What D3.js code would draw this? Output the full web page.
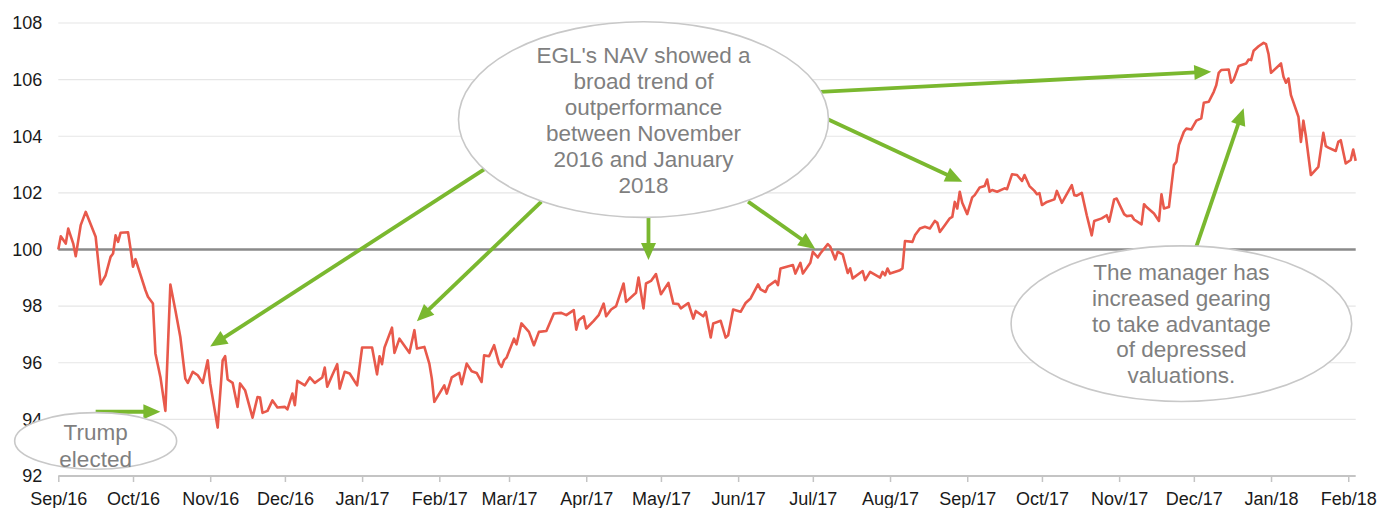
<!DOCTYPE html>
<html>
<head>
<meta charset="utf-8">
<script src="https://cdn.jsdelivr.net/npm/d3@7"></script>
<style>
  body { margin: 0; background: #fff; }
  svg { display: block; font-family: "Liberation Sans", Arial, sans-serif; }
</style>
</head>
<body>
<div id="chart"></div>
<script>
// chart size
const width = 1381, height = 508;
const margin = {top: 23, right: 25.3, bottom: 32, left: 58.3};

// NAV relative to index
const navDates = [
  "2016-09-01","2016-09-02","2016-09-04","2016-09-05","2016-09-07","2016-09-08","2016-09-10","2016-09-12",
  "2016-09-16","2016-09-18","2016-09-20","2016-09-22","2016-09-23","2016-09-24","2016-09-25","2016-09-26",
  "2016-09-29","2016-09-30","2016-10-01","2016-10-02","2016-10-06","2016-10-07","2016-10-09","2016-10-10",
  "2016-10-12","2016-10-14","2016-10-16","2016-10-18","2016-10-20","2016-10-22","2016-10-23","2016-10-25",
  "2016-10-27","2016-10-29","2016-10-31","2016-11-01","2016-11-04","2016-11-06","2016-11-07","2016-11-08",
  "2016-11-10","2016-11-12","2016-11-13","2016-11-15","2016-11-18","2016-11-20","2016-11-21","2016-11-22",
  "2016-11-24","2016-11-26","2016-11-28","2016-12-01","2016-12-02","2016-12-04","2016-12-05","2016-12-06",
  "2016-12-09","2016-12-11","2016-12-13","2016-12-16","2016-12-17","2016-12-18","2016-12-20","2016-12-22",
  "2016-12-23","2016-12-25","2016-12-27","2016-12-30","2017-01-01","2017-01-05","2017-01-07","2017-01-08",
  "2017-01-09","2017-01-10","2017-01-13","2017-01-14","2017-01-16","2017-01-20","2017-01-22","2017-01-23",
  "2017-01-26","2017-01-28","2017-01-29","2017-01-30","2017-02-03","2017-02-04","2017-02-06","2017-02-09",
  "2017-02-10","2017-02-12","2017-02-14","2017-02-16","2017-02-18","2017-02-19","2017-02-21","2017-02-23",
  "2017-02-25","2017-02-26","2017-02-27","2017-02-28","2017-03-03","2017-03-04","2017-03-06","2017-03-09",
  "2017-03-11","2017-03-13","2017-03-16","2017-03-19","2017-03-22","2017-03-24","2017-03-27","2017-03-28",
  "2017-03-29","2017-03-31","2017-04-01","2017-04-04","2017-04-06","2017-04-08","2017-04-09","2017-04-11",
  "2017-04-13","2017-04-16","2017-04-17","2017-04-21","2017-04-22","2017-04-24","2017-04-25","2017-04-27",
  "2017-04-29","2017-05-01","2017-05-04","2017-05-06","2017-05-08","2017-05-09","2017-05-12","2017-05-14",
  "2017-05-15","2017-05-18","2017-05-19","2017-05-20","2017-05-21","2017-05-22","2017-05-25","2017-05-27",
  "2017-05-28","2017-05-30","2017-06-02","2017-06-04","2017-06-06","2017-06-09","2017-06-10","2017-06-12",
  "2017-06-13","2017-06-16","2017-06-17","2017-06-18","2017-06-23","2017-06-24","2017-06-26","2017-06-27",
  "2017-06-30","2017-07-01","2017-07-03","2017-07-04","2017-07-07","2017-07-08","2017-07-10","2017-07-11",
  "2017-07-13","2017-07-15","2017-07-16","2017-07-17","2017-07-21","2017-07-22","2017-07-24","2017-07-28",
  "2017-07-29","2017-07-30","2017-07-31","2017-08-01","2017-08-05","2017-08-06","2017-08-07","2017-08-10",
  "2017-08-11","2017-08-13","2017-08-15","2017-08-17","2017-08-19","2017-08-20","2017-08-21","2017-08-23",
  "2017-08-25","2017-08-26","2017-08-27","2017-08-28","2017-08-29","2017-08-30","2017-09-01","2017-09-03",
  "2017-09-04","2017-09-06","2017-09-08","2017-09-09","2017-09-10","2017-09-11","2017-09-13","2017-09-16",
  "2017-09-17","2017-09-19","2017-09-21","2017-09-23","2017-09-24","2017-09-26","2017-09-28","2017-09-29",
  "2017-09-30","2017-10-01","2017-10-03","2017-10-06","2017-10-07","2017-10-09","2017-10-13","2017-10-14",
  "2017-10-15","2017-10-17","2017-10-19","2017-10-21","2017-10-22","2017-10-25","2017-10-27","2017-10-28",
  "2017-10-30","2017-10-31","2017-11-03","2017-11-04","2017-11-06","2017-11-07","2017-11-10","2017-11-11",
  "2017-11-12","2017-11-15","2017-11-17","2017-11-18","2017-11-19","2017-11-21","2017-11-22","2017-11-23",
  "2017-11-24","2017-11-25","2017-11-27","2017-11-28","2017-11-30","2017-12-02","2017-12-04","2017-12-05",
  "2017-12-07","2017-12-09","2017-12-10","2017-12-11","2017-12-12","2017-12-15","2017-12-16","2017-12-17",
  "2017-12-19","2017-12-22","2017-12-23","2017-12-24","2017-12-25","2017-12-27","2017-12-29","2017-12-30",
  "2017-12-31","2018-01-01","2018-01-05","2018-01-06","2018-01-07","2018-01-08","2018-01-09","2018-01-12",
  "2018-01-13","2018-01-14","2018-01-15","2018-01-17","2018-01-20","2018-01-22","2018-01-23","2018-01-24",
  "2018-01-27","2018-01-28","2018-01-29","2018-01-31","2018-02-02","2018-02-03","2018-02-04"
];
const navValues = [
  100.0,100.47,100.21,100.74,100.21,99.76,100.86,101.33,
  100.45,98.77,99.09,99.74,99.86,100.5,100.27,100.59,
  100.61,100.03,99.39,99.66,98.56,98.33,98.09,96.33,
  95.5,94.3,98.76,97.86,96.91,95.44,95.29,95.68,
  95.56,95.29,96.09,95.27,93.71,96.08,96.23,95.41,
  95.29,94.44,95.27,95.03,94.06,94.79,94.77,94.23,
  94.3,94.67,94.42,94.44,94.35,94.91,94.5,95.36,
  95.2,95.48,95.29,95.48,95.83,95.15,95.56,95.95,
  95.09,95.68,95.62,95.2,96.54,96.54,95.59,96.23,
  95.95,96.54,97.24,96.35,96.85,96.35,97.15,96.5,
  96.56,95.97,95.44,94.62,95.2,94.91,95.48,95.64,
  95.24,95.97,95.7,95.64,95.32,96.26,96.23,96.62,
  95.97,95.85,96.09,96.18,96.85,96.65,97.39,97.09,
  96.62,97.09,97.12,97.74,97.76,97.68,97.86,97.17,
  97.5,97.64,97.21,97.48,97.68,98.09,97.64,97.88,
  98.0,98.8,98.15,98.47,99.01,97.92,98.8,98.89,
  99.13,98.42,98.82,98.09,98.07,97.92,98.11,97.56,
  97.83,97.64,97.8,97.33,96.89,97.39,97.48,96.89,
  96.97,97.88,97.8,98.11,98.27,98.77,98.59,98.5,
  98.7,98.89,98.74,99.33,99.45,99.15,99.53,99.15,
  99.53,99.92,99.72,99.86,100.19,100.1,99.65,99.92,
  99.83,99.17,99.33,98.98,99.24,98.92,99.21,99.01,
  99.21,99.09,99.33,99.15,99.27,99.33,100.3,100.27,
  100.5,100.74,100.8,100.74,101.01,100.94,100.62,100.86,
  101.1,101.15,101.68,101.45,102.04,101.65,101.25,101.84,
  101.92,102.19,102.24,102.47,102.04,102.1,102.04,102.16,
  102.13,102.66,102.63,102.42,102.63,102.24,102.07,101.95,
  101.99,101.57,101.68,101.77,102.07,101.65,102.27,101.92,
  101.9,102.0,101.21,100.5,101.01,101.1,101.21,100.98,
  101.77,101.8,101.25,101.18,101.2,101.06,100.89,101.6,
  101.5,101.27,101.01,101.95,101.45,101.5,102.25,102.98,
  103.1,103.69,104.16,104.27,104.24,104.55,104.63,105.18,
  105.22,105.57,105.8,106.24,106.34,106.36,105.89,106.0,
  106.48,106.57,106.71,106.69,107.02,107.18,107.3,107.25,
  106.9,106.24,106.57,106.1,105.89,106.04,105.45,104.69,
  103.8,104.55,104.0,102.63,102.92,104.12,103.65,103.6,
  103.48,103.8,103.86,103.04,103.16,103.53,103.13
];

const yTicks = [92, 94, 96, 98, 100, 102, 104, 106, 108];
const baseline = 100;

// callouts: anchor date / value and text lines
const noteDates = ["2016-09-16", "2017-04-24", "2017-11-26"];
const noteValues = [93.24, 104.59, 97.38];
const noteLines = [
  ["Trump", "elected"],
  ["EGL's NAV showed a", "broad trend of", "outperformance", "between November", "2016 and January", "2018"],
  ["The manager has", "increased gearing", "to take advantage", "of depressed", "valuations."]
];

// arrows: from (date, value) to (date, value)
const arrowFromDates = ["2016-09-16","2017-02-19","2017-03-14","2017-04-26","2017-06-05","2017-07-07","2017-07-04","2017-12-02"];
const arrowFromValues = [94.27, 102.83, 101.69, 101.14, 101.69, 104.6, 105.57, 100.1];
const arrowToDates = ["2016-10-12","2016-11-01","2017-01-23","2017-04-26","2017-07-02","2017-08-30","2017-12-08","2017-12-21"];
const arrowToValues = [94.27, 96.57, 97.47, 99.63, 100.02, 102.39, 106.28, 104.99];

const parse = d3.timeParse("%Y-%m-%d");
const series = navDates.map((d, i) => ({date: parse(d), value: navValues[i]}));

const svg = d3.select("#chart").append("svg")
  .attr("width", width)
  .attr("height", height);

let x = d3.scaleTime()
  .domain([parse("2016-09-01"), parse("2018-02-04")])
  .range([margin.left, width - margin.right]);

let y = d3.scaleLinear()
  .domain([92, 108])
  .range([height - margin.bottom, margin.top]);

// gridlines
svg.append("g")
  .selectAll("line")
  .data(yTicks.filter(t => t !== 92 && t !== baseline))
  .enter().append("line")
  .attr("x1", margin.left).attr("x2", width - margin.right)
  .attr("y1", d => y(d)).attr("y2", d => y(d))
  .attr("stroke", "#e6e6e6")
  .attr("stroke-width", 1.2);

// y labels
let yAxis = svg.append("g")
  .attr("transform", `translate(${margin.left},0)`)
  .call(d3.axisLeft(y).tickValues(yTicks).tickSize(0).tickPadding(16).tickFormat(d3.format("d")));
yAxis.select(".domain").remove();
yAxis.selectAll("text")
  .style("font-size", "18px")
  .attr("fill", "#1a1a1a")
  .attr("font-family", "Liberation Sans, Arial, sans-serif");

// x axis
const months = d3.timeMonth.range(parse("2016-09-01"), parse("2018-02-02"));
let xAxis = svg.append("g")
  .attr("transform", `translate(0,${y(92)})`)
  .call(d3.axisBottom(x).tickValues(months).tickSize(6).tickPadding(10).tickFormat(d3.timeFormat("%b/%y")));
xAxis.select(".domain")
  .attr("stroke", "#c4c4c4")
  .attr("stroke-width", 2)
  .attr("d", `M${margin.left},0H${width - margin.right}`);
xAxis.selectAll(".tick line").attr("stroke", "#c4c4c4").attr("stroke-width", 1.5);
xAxis.selectAll("text")
  .style("font-size", "18px")
  .attr("fill", "#1a1a1a")
  .attr("font-family", "Liberation Sans, Arial, sans-serif");

// 100 reference line
svg.append("line")
  .attr("x1", margin.left).attr("x2", width - margin.right)
  .attr("y1", y(baseline)).attr("y2", y(baseline))
  .attr("stroke", "#8a8a8a")
  .attr("stroke-width", 2.5);

// NAV line
let line = d3.line()
  .x(d => x(d.date))
  .y(d => y(d.value));

svg.append("path")
  .datum(series)
  .attr("d", line)
  .attr("fill", "none")
  .attr("stroke", "#e8594b")
  .attr("stroke-width", 2.6)
  .attr("stroke-linejoin", "round");

// arrows
const green = "#7ab82f";
const headLen = 17, headW = 7.5;
let arrows = svg.append("g");
arrowFromDates.forEach((fd, i) => {
  let x1 = x(parse(fd)), y1 = y(arrowFromValues[i]);
  let x2 = x(parse(arrowToDates[i])), y2 = y(arrowToValues[i]);
  let dx = x2 - x1, dy = y2 - y1, len = Math.hypot(dx, dy);
  let ux = dx / len, uy = dy / len;
  let bx = x2 - ux * headLen, by = y2 - uy * headLen;
  arrows.append("line")
    .attr("x1", x1).attr("y1", y1)
    .attr("x2", bx + ux * 2).attr("y2", by + uy * 2)
    .attr("stroke", green)
    .attr("stroke-width", 3.8);
  arrows.append("path")
    .attr("d", `M${x2},${y2}L${bx - uy * headW},${by + ux * headW}L${bx + uy * headW},${by - ux * headW}Z`)
    .attr("fill", green);
});

// callout ellipses
const noteSize = [[81, 28.3], [185, 97.8], [170.3, 77.8]];
const lineGap = [27, 26, 25.8];
const textShift = [4.5, 0.5, 0];
noteDates.forEach((nd, i) => {
  let cx = x(parse(nd)), cy = y(noteValues[i]);
  let g = svg.append("g");
  g.append("ellipse")
    .attr("cx", cx).attr("cy", cy)
    .attr("rx", noteSize[i][0]).attr("ry", noteSize[i][1])
    .attr("fill", "#fff")
    .attr("stroke", "#c8c8c8")
    .attr("stroke-width", 1.6);
  let lines = noteLines[i];
  let gap = lineGap[i];
  let first = cy + textShift[i] - gap * (lines.length - 1) / 2;
  g.selectAll("text")
    .data(lines)
    .enter().append("text")
    .attr("x", cx)
    .attr("y", (d, j) => first + j * gap)
    .attr("dy", "0.35em")
    .attr("text-anchor", "middle")
    .style("font-size", "22.5px")
    .attr("fill", "#7f7f7f")
    .text(d => d);
});
</script>
</body>
</html>
